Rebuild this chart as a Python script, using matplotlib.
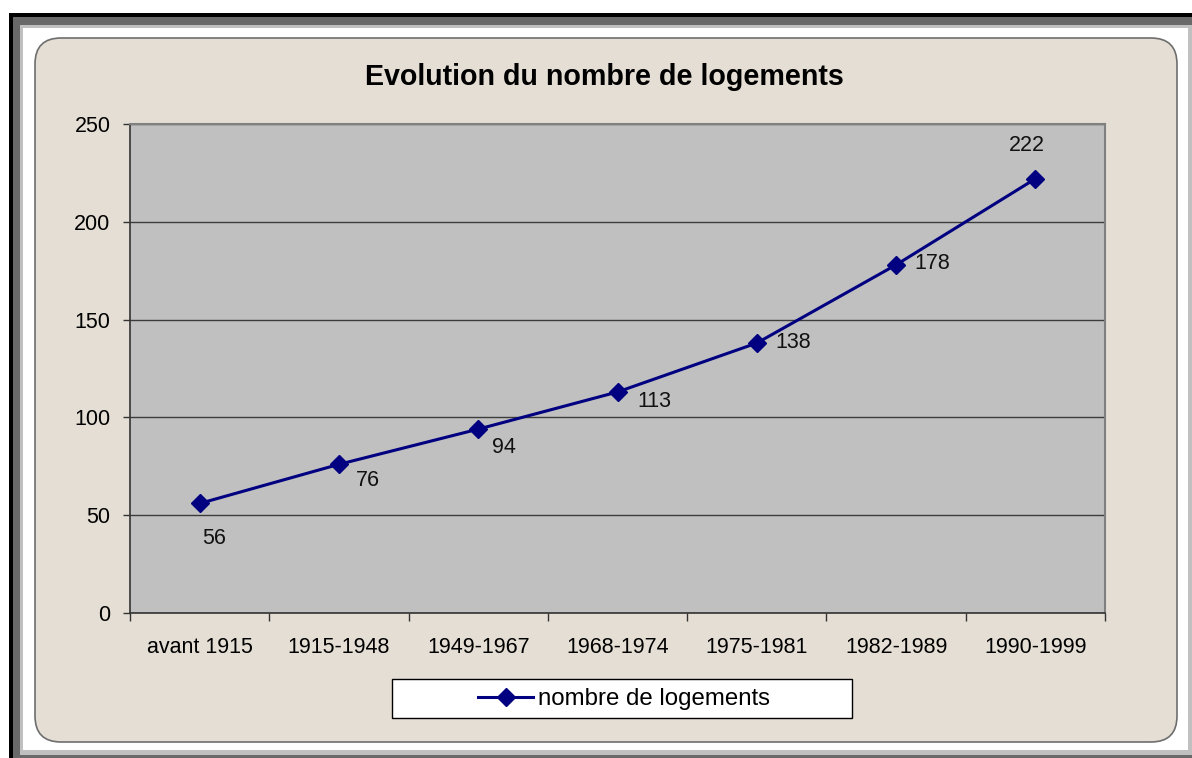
"""Evolution du nombre de logements - line chart in the old Excel style."""

import matplotlib

matplotlib.use("Agg")
import matplotlib.pyplot as plt  # noqa: E402
from matplotlib.patches import FancyBboxPatch, Rectangle  # noqa: E402

periods = ["avant 1915", "1915-1948", "1949-1967", "1968-1974",
           "1975-1981", "1982-1989", "1990-1999"]
logements = [56, 76, 94, 113, 138, 178, 222]
y_ticks = [0, 50, 100, 150, 200, 250]

# hand-placed label offsets (pixels), as in the original sheet
label_offsets = [(14, -35), (29, -16), (26, -18), (37, -10), (36, 1), (36, 1), (-8, 33)]

W, H = 1192, 758
NAVY = "#000080"
BEIGE = "#E4DED4"

plt.rcParams["font.family"] = ["Liberation Sans", "DejaVu Sans"]

fig = plt.figure(figsize=(W / 100, H / 100), dpi=100)
fig.patch.set_facecolor("white")


def px_rect(x0, y0, x1, y1, color):
    # rectangle given in image pixels (origin top-left)
    fig.patches.append(Rectangle((x0 / W, 1 - y1 / H), (x1 - x0) / W, (y1 - y0) / H,
                                 transform=fig.transFigure, facecolor=color,
                                 edgecolor="none", zorder=-3))


# sunken window frame
px_rect(9, 13, W, 17, "black")
px_rect(9, 13, 13, H, "black")
px_rect(13, 17, W, 25, "#696969")
px_rect(13, 17, 20, H, "#696969")
px_rect(20, 25, 1188, 28, "#c0c0c0")
px_rect(20, 25, 23, 755, "#c0c0c0")
px_rect(1188, 25, W, 755, "#c0c0c0")
px_rect(20, 750, W, 755, "#c0c0c0")
px_rect(13, 755, W, H, "#696969")

# rounded chart area
r = 26
fig.patches.append(FancyBboxPatch(((35 + r) / W, 1 - (742 - r) / H),
                                  (1177 - 35 - 2 * r) / W, (742 - 38 - 2 * r) / H,
                                  boxstyle=f"round,pad={r / W},rounding_size={r / W}",
                                  transform=fig.transFigure, facecolor=BEIGE,
                                  edgecolor="#6e6e6e", lw=1.2, zorder=-2,
                                  mutation_aspect=W / H))

ax = fig.add_axes([130 / W, (H - 613) / H, 975 / W, 489 / H])
ax.set_facecolor("#C0C0C0")

x = [i + 0.5 for i in range(len(periods))]
ax.plot(x, logements, color=NAVY, lw=2.2, marker="D", markersize=9,
        markerfacecolor=NAVY, markeredgecolor=NAVY, label="nombre de logements",
        zorder=3)

for xi, v, (dx, dy) in zip(x, logements, label_offsets):
    ax.annotate(str(v), (xi, v), xytext=(dx, dy), textcoords="offset pixels",
                ha="center", va="center", fontsize=15.5, color="#111111")

ax.set_xlim(0, len(periods))
ax.set_ylim(0, 250)
ax.set_yticks(y_ticks)
ax.yaxis.grid(True, color="#3c3c3c", lw=1.0)
ax.set_axisbelow(True)

ax.set_xticks(x)
ax.set_xticklabels(periods)
ax.set_xticks(range(len(periods) + 1), minor=True)
ax.tick_params(axis="x", which="major", length=0, pad=17, labelsize=15.5)
ax.tick_params(axis="x", which="minor", length=6, width=1, color="#333333")
ax.tick_params(axis="y", length=5, width=1, pad=9, color="#333333", labelsize=15.5)

for side in ("top", "right"):
    ax.spines[side].set_color("#808080")
    ax.spines[side].set_linewidth(1.5)
for side in ("left", "bottom"):
    ax.spines[side].set_color("#333333")
    ax.spines[side].set_linewidth(1.2)

fig.text(604 / W, 1 - 77 / H, "Evolution du nombre de logements",
         ha="center", va="center", fontsize=20.6, fontweight="bold")

# legend box
fig.patches.append(Rectangle((392 / W, 1 - 718 / H), 460 / W, 39 / H,
                             transform=fig.transFigure, facecolor="white",
                             edgecolor="black", lw=1, zorder=1))
handles, labels = ax.get_legend_handles_labels()
leg = fig.legend(handles, labels, loc="center", bbox_to_anchor=(624 / W, 1 - 699 / H),
                 frameon=False, fontsize=17.3, handlelength=2.3, handletextpad=0.2)

fig.savefig("out.png", dpi=100, facecolor=fig.get_facecolor())
